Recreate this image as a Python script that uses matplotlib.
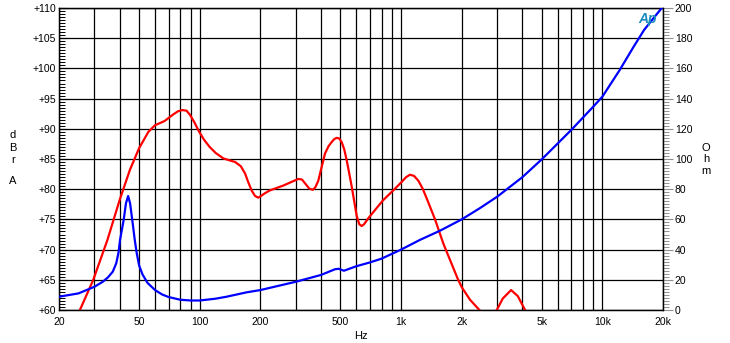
import matplotlib
matplotlib.use("Agg")
import matplotlib.pyplot as plt
from matplotlib.ticker import FixedLocator, MultipleLocator, NullFormatter

plt.rcParams['font.family'] = ['Liberation Sans', 'DejaVu Sans']

# Frequency response (dBrA)
spl_freq = [24.5, 25.4, 29.6, 34.8, 40, 45, 50, 55.6, 60, 64, 67, 74, 78, 82, 86, 89.5,
            94, 99, 105, 112, 120, 131, 140, 150, 160, 168, 174, 181, 188, 195, 200, 210,
            223, 260, 290, 309, 322, 333, 350, 364, 375, 388, 400, 419, 436, 452, 466,
            479, 493, 507, 522, 537, 553, 569, 602, 620, 637, 655, 688, 757, 816, 908,
            1007, 1060, 1108, 1160, 1219, 1280, 1340, 1475, 1622, 1750, 1910, 2000, 2200,
            2450, 2700, 2990, 3200, 3520, 3800, 4130, 4300]
spl_db = [58.8, 60, 65, 71.6, 78.2, 83.2, 86.8, 89.5, 90.6, 91.0, 91.3, 92.4, 92.9, 93.1,
          93.0, 92.3, 91.1, 89.6, 88.2, 87.0, 86.0, 85.1, 84.8, 84.5, 83.8, 82.6, 81.2,
          79.8, 78.9, 78.6, 78.8, 79.3, 79.8, 80.6, 81.3, 81.7, 81.6, 81.0, 80.1, 79.9,
          80.3, 81.4, 83.2, 85.9, 87.1, 87.8, 88.3, 88.5, 88.4, 87.8, 86.6, 84.8, 82.6,
          80.4, 75.6, 74.2, 73.9, 74.2, 75.2, 76.9, 78.2, 79.7, 81.2, 82.0, 82.4, 82.2,
          81.4, 80.1, 78.5, 75.0, 71.0, 68.3, 65.2, 63.8, 61.7, 60.0, 58.5, 60.0, 61.9,
          63.3, 62.3, 60.0, 58.8]

# Impedance (Ohm)
imp_freq = [20, 25, 30, 33, 35, 37, 38.5, 39.5, 40.2, 41.9, 43, 44.1, 45.1, 46.5, 47.5,
            48.6, 50, 52, 55, 60, 65, 70, 80, 90, 100, 120, 136, 171, 200, 300, 400, 470,
            490, 520, 600, 700, 800, 1000, 1240, 1560, 2000, 2460, 3000, 4000, 5000, 7000,
            9000, 10000, 12200, 14300, 16100, 18000, 20000]
imp_ohm = [8.8, 11.0, 15.4, 18.7, 21.6, 25.4, 31.0, 38.0, 46.4, 59.6, 70.6, 75.5, 70.6,
           57.0, 47.0, 38.0, 29.5, 23.5, 18.0, 13.2, 10.3, 8.6, 6.8, 6.3, 6.3, 7.5, 8.8,
           11.7, 13.2, 18.7, 23.2, 27.0, 27.3, 26.0, 29.0, 31.5, 34.0, 40.0, 46.4, 52.5,
           60.0, 67.4, 75.0, 87.9, 99.8, 119.2, 134.6, 141.3, 159.0, 174.4, 185.4, 193.5,
           201.0]

x_tick_vals = [20, 50, 100, 200, 500, 1000, 2000, 5000, 10000, 20000]
x_tick_labels = ['20', '50', '100', '200', '500', '1k', '2k', '5k', '10k', '20k']
x_grid_vals = [m * d for d in (10, 100, 1000, 10000) for m in range(1, 10)
               if 20 <= m * d <= 20000]
db_ticks = list(range(60, 111, 5))
ohm_ticks = list(range(0, 201, 20))

W, H = 730, 343
fig = plt.figure(figsize=(W / 100, H / 100), dpi=100)
L, R, T, B = 59, 663, 8, 310
ax = fig.add_axes([L / W, 1 - B / H, (R - L) / W, (B - T) / H])
ax2 = ax.twinx()

ax.set_xscale('log')
ax.set_xlim(20, 20000)
ax.set_ylim(60, 110)
ax2.set_ylim(0, 200)

# grid
for f in x_grid_vals:
    ax.axvline(f, color='black', lw=0.9, zorder=1)
for d in db_ticks:
    ax.axhline(d, color='black', lw=0.9, zorder=1)

ax.plot(spl_freq, spl_db, color='#ff0000', lw=1.6, zorder=3, clip_on=True)
ax2.plot(imp_freq, imp_ohm, color='#0000ff', lw=1.6, zorder=3, clip_on=True)
ax2.patch.set_visible(False)

# x ticks
ax.xaxis.set_major_locator(FixedLocator(x_tick_vals))
ax.set_xticklabels(x_tick_labels)
ax.xaxis.set_minor_formatter(NullFormatter())
ax.tick_params(axis='x', which='both', length=0, pad=5, labelsize=7.5)
ax.set_xlabel('Hz', fontsize=8, labelpad=3)

# left y
ax.yaxis.set_major_locator(FixedLocator(db_ticks))
ax.set_yticklabels(['+%d' % v for v in db_ticks])
ax.yaxis.set_minor_locator(MultipleLocator(0.5))
ax.tick_params(axis='y', which='major', direction='in', length=6, width=0.8,
               pad=2, labelsize=7.5)
ax.tick_params(axis='y', which='minor', direction='in', length=4, width=0.7)

# right y
ax2.yaxis.set_major_locator(FixedLocator(ohm_ticks))
ax2.set_yticklabels([str(v) for v in ohm_ticks])
ax2.yaxis.set_minor_locator(MultipleLocator(2))
ax2.tick_params(axis='y', which='major', direction='out', length=7, width=0.8,
                color='#909090', pad=1.5, labelsize=7.5)
ax2.tick_params(axis='y', which='minor', direction='out', length=4, width=0.7,
                color='#909090')

for a in (ax, ax2):
    for s in a.spines.values():
        s.set_linewidth(0.9)
        s.set_color('black')

# vertical stacked axis titles
for ch, y in zip(['d', 'B', 'r', 'A'], [135, 148, 160, 181]):
    fig.text(13 / W, 1 - y / H, ch, ha='center', va='center', fontsize=8)
for ch, y in zip(['O', 'h', 'm'], [148, 159, 171]):
    fig.text(706 / W, 1 - y / H, ch, ha='center', va='center', fontsize=8)

# Ap logo
fig.text(648 / W, 1 - 19 / H, 'Ap', ha='center', va='center', fontsize=10,
         fontweight='bold', style='italic', color='#1a8cc0')

fig.savefig('out.png', dpi=100)
